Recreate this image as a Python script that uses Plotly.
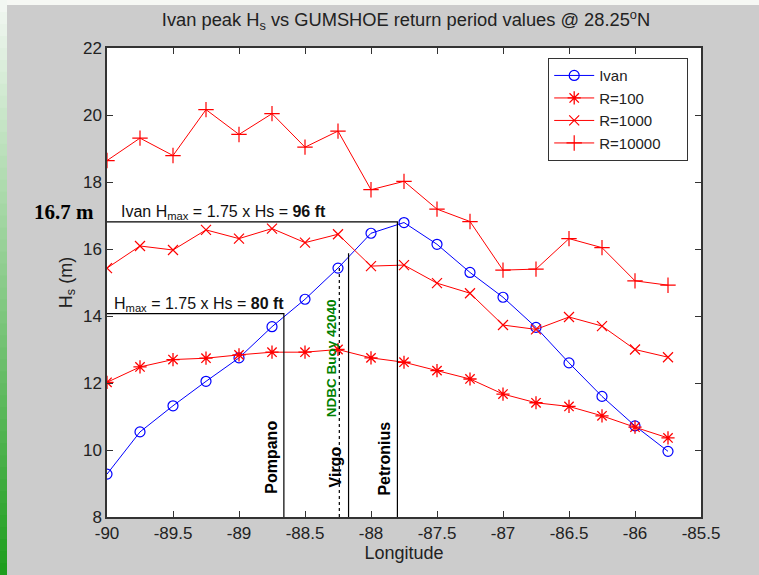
import plotly.graph_objects as go

# ---------------- data ----------------
longitude = [-90, -89.75, -89.5, -89.25, -89, -88.75, -88.5, -88.25, -88,
             -87.75, -87.5, -87.25, -87, -86.75, -86.5, -86.25, -86, -85.75]
ivan = [9.28, 10.54, 11.32, 12.05, 12.75, 13.68, 14.50, 15.43, 16.47,
        16.79, 16.14, 15.30, 14.56, 13.66, 12.60, 11.60, 10.72, 9.96]
r100 = [12.02, 12.48, 12.70, 12.74, 12.84, 12.92, 12.92, 13.00, 12.75,
        12.62, 12.37, 12.12, 11.67, 11.41, 11.30, 11.02, 10.68, 10.36]
r1000 = [15.43, 16.09, 15.97, 16.57, 16.31, 16.61, 16.19, 16.44, 15.49,
         15.52, 14.98, 14.68, 13.73, 13.60, 13.97, 13.70, 13.00, 12.77]
r10000 = [18.64, 19.31, 18.79, 20.16, 19.42, 20.04, 19.04, 19.52, 17.77,
          18.02, 17.19, 16.82, 15.37, 15.40, 16.31, 16.04, 15.05, 14.92]

series_names = ["Ivan", "R=100", "R=1000", "R=10000"]

# platforms / reference lines (longitude, top of line in m)
pompano_lon, pompano_top = -88.66, 14.07
virgo_lon, virgo_top = -88.17, 15.87
buoy_lon, buoy_top = -88.24, 15.43
petronius_lon, ivan_peak_line = -87.80, 16.81

x_ticks = [-90, -89.5, -89, -88.5, -88, -87.5, -87, -86.5, -86, -85.5]
x_ticktext = ["-90", "-89.5", "-89", "-88.5", "-88", "-87.5", "-87", "-86.5", "-86", "-85.5"]
y_ticks = [8, 10, 12, 14, 16, 18, 20, 22]
y_ticktext = ["8", "10", "12", "14", "16", "18", "20", "22"]

# ---------------- figure ----------------
FONT = "Liberation Sans, Arial, Helvetica, sans-serif"
PAD = "\u00a0" * 5  # widens the legend box a little, like the reference
fig = go.Figure()

fig.add_trace(go.Scatter(x=longitude, y=ivan, name=series_names[0] + PAD, mode="lines+markers",
                         line=dict(color="#0000ff", width=1),
                         marker=dict(symbol="circle-open", size=10, color="#0000ff",
                                     line=dict(width=1.2, color="#0000ff"))))
fig.add_trace(go.Scatter(x=longitude, y=r100, name=series_names[1] + PAD, mode="lines+markers",
                         line=dict(color="#ff0000", width=1),
                         marker=dict(symbol="asterisk-open", size=11, color="#ff0000",
                                     line=dict(width=1.3, color="#ff0000"))))
fig.add_trace(go.Scatter(x=longitude, y=r1000, name=series_names[2] + PAD, mode="lines+markers",
                         line=dict(color="#ff0000", width=1),
                         marker=dict(symbol="x-thin-open", size=10, color="#ff0000",
                                     line=dict(width=1.2, color="#ff0000"))))
fig.add_trace(go.Scatter(x=longitude, y=r10000, name=series_names[3] + PAD, mode="lines+markers",
                         line=dict(color="#ff0000", width=1),
                         marker=dict(symbol="cross-thin-open", size=11, color="#ff0000",
                                     line=dict(width=1.2, color="#ff0000"))))

xmin = x_ticks[0]
ymin = y_ticks[0]
ref_lines = [
    ([xmin, petronius_lon, petronius_lon], [ivan_peak_line, ivan_peak_line, ymin], "solid"),
    ([xmin, pompano_lon, pompano_lon], [pompano_top, pompano_top, ymin], "solid"),
    ([virgo_lon, virgo_lon], [ymin, virgo_top], "solid"),
    ([buoy_lon, buoy_lon], [ymin, buoy_top], "dot"),
]
for xs, ys, dash in ref_lines:
    fig.add_trace(go.Scatter(x=xs, y=ys, mode="lines", showlegend=False, hoverinfo="skip",
                             line=dict(color="#000000", width=1.2, dash=dash)))

# ---------------- background decorations ----------------
L, R, T, B = 107, 58, 48, 58
W, H = 759, 575
pw, ph = W - L - R, H - T - B

def px_x(p):
    return (p - L) / pw

def px_y(p):
    return (H - B - p) / ph

shapes = []
n = 48
c0 = (242, 247, 242)
c1 = (30, 158, 30)
for i in range(n):
    t = i / (n - 1)
    col = tuple(int(round(c0[k] + (c1[k] - c0[k]) * t)) for k in range(3))
    y0p = H * i / n
    y1p = H * (i + 1) / n + 1
    shapes.append(dict(type="rect", xref="paper", yref="paper",
                       x0=px_x(0), x1=px_x(7), y0=px_y(y1p), y1=px_y(y0p),
                       fillcolor="rgb(%d,%d,%d)" % col, line=dict(width=0), layer="below"))
shapes.append(dict(type="rect", xref="paper", yref="paper",
                   x0=px_x(7), x1=px_x(W), y0=px_y(5), y1=px_y(0),
                   fillcolor="#f6f8f4", line=dict(width=0), layer="below"))

annotations = [
    dict(x=-89.91, y=ivan_peak_line, xref="x", yref="y", xanchor="left", yanchor="bottom",
         text="Ivan H<sub>max</sub> = 1.75 x Hs = <b>96 ft</b>", showarrow=False,
         font=dict(family=FONT, size=16, color="#111111"), yshift=-2),
    dict(x=-89.96, y=pompano_top, xref="x", yref="y", xanchor="left", yanchor="bottom",
         text="H<sub>max</sub> = 1.75 x Hs = <b>80 ft</b>", showarrow=False,
         font=dict(family=FONT, size=16, color="#111111"), yshift=-2),
    dict(x=px_x(96), y=px_y(212), xref="paper", yref="paper", xanchor="right", yanchor="middle",
         text="<b>16.7 m</b>", showarrow=False,
         font=dict(family="Liberation Serif, Times New Roman, serif", size=21, color="#000000")),
    dict(x=-88.76, y=9.79, xref="x", yref="y", text="<b>Pompano</b>", textangle=-90,
         showarrow=False, font=dict(family=FONT, size=16, color="#000000")),
    dict(x=-88.27, y=9.49, xref="x", yref="y", text="<b>Virgo</b>", textangle=-90,
         showarrow=False, font=dict(family=FONT, size=16, color="#000000")),
    dict(x=-87.905, y=9.73, xref="x", yref="y", text="<b>Petronius</b>", textangle=-90,
         showarrow=False, font=dict(family=FONT, size=16, color="#000000")),
    dict(x=-88.30, y=12.75, xref="x", yref="y", text="<b>NDBC Buoy 42040</b>", textangle=-90,
         showarrow=False, font=dict(family=FONT, size=13.5, color="#008000")),
]

fig.update_layout(
    width=W, height=H,
    margin=dict(l=L, r=R, t=T, b=B, pad=0),
    paper_bgcolor="#cccccc",
    plot_bgcolor="#ffffff",
    font=dict(family=FONT, size=17, color="#222222"),
    title=dict(text="Ivan peak H<sub>s</sub> vs GUMSHOE return period values @ 28.25<sup>o</sup>N",
               x=406 / W, xanchor="center", y=1 - 20 / H, yanchor="middle",
               font=dict(family=FONT, size=18.3, color="#222222")),
    xaxis=dict(range=[-90, -85.5], tickvals=x_ticks, ticktext=x_ticktext,
               ticks="inside", ticklen=6, tickcolor="#333333", showline=True,
               linecolor="#333333", linewidth=1.5, mirror="ticks", showgrid=False, zeroline=False,
               tickfont=dict(family=FONT, size=17, color="#222222"),
               title=dict(text="Longitude", standoff=4,
                          font=dict(family=FONT, size=18, color="#222222"))),
    yaxis=dict(range=[8, 22], tickvals=y_ticks, ticktext=y_ticktext,
               ticks="inside", ticklen=6, tickcolor="#333333", showline=True,
               linecolor="#333333", linewidth=1.5, mirror="ticks", showgrid=False, zeroline=False,
               tickfont=dict(family=FONT, size=17, color="#222222"),
               title=dict(text="H<sub>s</sub> (m)", standoff=6,
                          font=dict(family=FONT, size=18, color="#222222"))),
    legend=dict(x=px_x(548), y=px_y(58), xanchor="left", yanchor="top",
                bgcolor="#ffffff", bordercolor="#333333", borderwidth=1.2,
                font=dict(family=FONT, size=15, color="#222222"),
                itemwidth=40, tracegroupgap=0),
    shapes=shapes,
    annotations=annotations,
    showlegend=True,
)

fig.write_html("out.html", config={"displayModeBar": False},
               post_script="document.body.style.margin='0px';")
